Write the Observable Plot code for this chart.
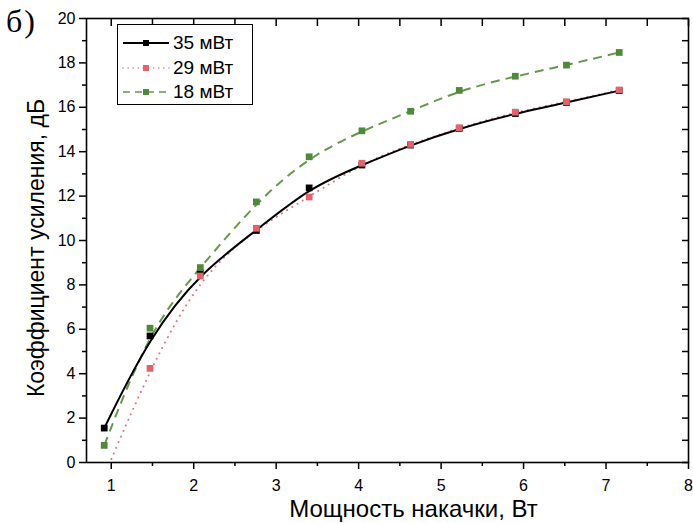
<!DOCTYPE html>
<html><head><meta charset="utf-8">
<script src="https://cdn.jsdelivr.net/npm/d3@7"></script>
<script src="https://cdn.jsdelivr.net/npm/@observablehq/plot@0.6"></script>
<style>
body{margin:0;background:#fff}
#wrap{position:relative;width:693px;height:523px;font-family:"Liberation Sans",Arial,sans-serif;overflow:hidden}
#title{position:absolute;left:6px;top:1px;font-family:"Liberation Serif","DejaVu Serif",serif;font-size:32px;letter-spacing:2px;color:#000;line-height:40px}
#ylabel{position:absolute;left:36px;top:248px;transform:translate(-50%,-50%) rotate(-90deg);white-space:nowrap;font-size:23px;color:#000;line-height:26px}
#legend{position:absolute;left:117px;top:24px;width:134px;height:79px;border:1px solid #000;background:#fff}
.row{position:absolute;left:4px;height:20px;display:flex;align-items:center;font-size:19px;color:#000}
.row svg{margin-right:3px}
</style>
</head><body><div id="wrap"><div id="title">б)</div></div>
<script>
// pump power, W
const power  = [0.915, 1.47, 2.08, 2.76, 3.40, 4.04, 4.63, 5.22, 5.90, 6.52, 7.16];
// gain, dB
const gain35 = [1.55, 5.70, 8.55, 10.45, 12.37, 13.40, 14.30, 15.05, 15.72, 16.22, 16.75];
const gain29 = [-0.60, 4.24, 8.40, 10.55, 11.96, 13.48, 14.33, 15.08, 15.78, 16.25, 16.78];
const gain18 = [0.77, 6.05, 8.78, 11.74, 13.77, 14.94, 15.82, 16.76, 17.40, 17.90, 18.47];
const seriesNames = ["35 мВт", "29 мВт", "18 мВт"];
const xTicks = [1, 2, 3, 4, 5, 6, 7, 8];
const xMinor = [1.5, 2.5, 3.5, 4.5, 5.5, 6.5, 7.5];
const yTicks = [0, 2, 4, 6, 8, 10, 12, 14, 16, 18, 20];
const yMinor = [1, 3, 5, 7, 9, 11, 13, 15, 17, 19];
const xLabel = "Мощность накачки, Вт";
const yLabel = "Коэффициент усиления, дБ";

const styles = [
  {stroke: "#000000", marker: "#000000", dash: null, cap: "butt"},
  {stroke: "#e27a82", marker: "#e2636c", dash: "0.1 6", cap: "round"},
  {stroke: "#64994c", marker: "#4f8a3c", dash: "9 6", cap: "butt"}
];
const rows = power.map((p, i) => ({p, g35: gain35[i], g29: gain29[i], g18: gain18[i]}));
const keys = ["g35", "g29", "g18"];

const lineMark = k => {
  const s = styles[k];
  return Plot.line(rows, {x: "p", y: keys[k], curve: "basis", stroke: s.stroke, strokeWidth: 2,
    strokeDasharray: s.dash, strokeLinecap: s.cap, clip: true});
};
const dotMark = k => Plot.dot(rows, {x: "p", y: keys[k], symbol: "square", r: 3.8, fill: styles[k].marker, stroke: "none", clip: true});

const chart = Plot.plot({
  width: 693, height: 523,
  marginLeft: 86, marginRight: 5, marginTop: 18, marginBottom: 61,
  style: {fontFamily: "'Liberation Sans', Arial, sans-serif", fontSize: "16px", color: "#000", background: "#fff", overflow: "visible"},
  x: {domain: [0.7, 8], label: null, axis: null},
  y: {domain: [0, 20], label: null, axis: null},
  marks: [
    lineMark(2), lineMark(1), lineMark(0),
    dotMark(0), dotMark(2), dotMark(1),
    Plot.frame({stroke: "#000", strokeWidth: 1.6}),
    Plot.axisX({anchor: "bottom", ticks: xTicks, tickSize: 7, tickPadding: 10, tickFormat: d => d, fontSize: 16, label: null, strokeWidth: 1.5}),
    Plot.axisX({anchor: "bottom", ticks: xMinor, tickSize: 4, text: null, label: null, strokeWidth: 1.5}),
    Plot.axisX({anchor: "top", ticks: xTicks.concat(xMinor), tickSize: -7, text: null, label: null, strokeWidth: 1.5}),
    Plot.axisY({anchor: "left", ticks: yTicks, tickSize: 7, tickPadding: 4, tickFormat: d => d, fontSize: 16, label: null, strokeWidth: 1.5}),
    Plot.axisY({anchor: "left", ticks: yMinor, tickSize: 4, text: null, label: null, strokeWidth: 1.5}),
    Plot.axisY({anchor: "right", ticks: yTicks.concat(yMinor), tickSize: -7, text: null, label: null, strokeWidth: 1.5}),
    Plot.text([xLabel], {text: d => d, frameAnchor: "bottom", dx: 26, dy: 47, fontSize: 24, lineAnchor: "middle", fill: "#000"})
  ]
});
const wrap = document.getElementById("wrap");
wrap.insertBefore(chart, wrap.firstChild);

const yl = document.createElement("div");
yl.id = "ylabel";
yl.textContent = yLabel;
wrap.appendChild(yl);

// legend
const legend = document.createElement("div");
legend.id = "legend";
seriesNames.forEach((name, k) => {
  const s = styles[k];
  const row = document.createElement("div");
  row.className = "row";
  row.style.top = (8 + k * 24.5) + "px";
  const svg = d3.create("svg").attr("width", 48).attr("height", 14);
  svg.append("line").attr("x1", 1).attr("x2", 47).attr("y1", 7).attr("y2", 7)
    .attr("stroke", s.stroke).attr("stroke-width", k === 0 ? 2 : 1.6)
    .attr("stroke-dasharray", k === 1 ? "0.1 5" : (k === 2 ? "7 5" : null))
    .attr("stroke-linecap", s.cap);
  svg.append("rect").attr("x", 21).attr("y", 4).attr("width", 6).attr("height", 6).attr("fill", s.marker);
  row.appendChild(svg.node());
  const t = document.createElement("span");
  t.textContent = name;
  row.appendChild(t);
  legend.appendChild(row);
});
wrap.appendChild(legend);
</script>
</body></html>
